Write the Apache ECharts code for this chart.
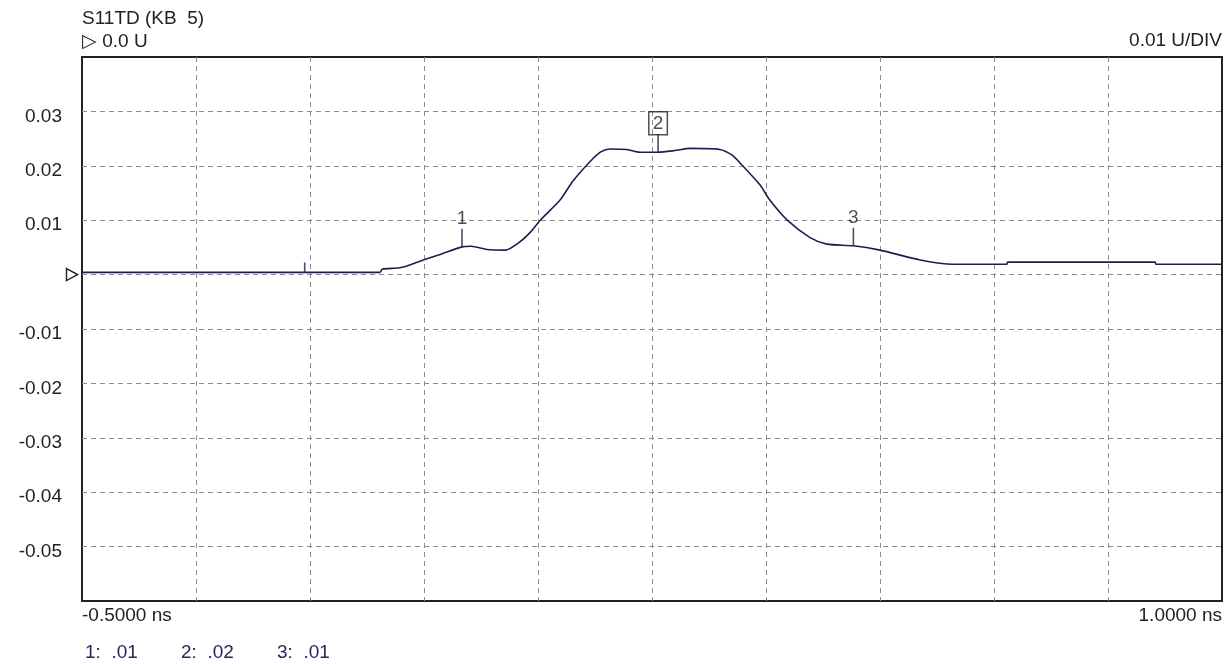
<!DOCTYPE html>
<html>
<head>
<meta charset="utf-8">
<script src="https://cdn.jsdelivr.net/npm/echarts@6/dist/echarts.min.js"></script>
<style>
html,body{margin:0;padding:0;background:#fff;}
#chart{width:1230px;height:664px;}
</style>
</head>
<body>
<div id="chart"></div>
<script>
// ---- data ----
const timeNs = [-0.5, -0.108, -0.105, -0.08, -0.051, -0.029, 0.0, 0.012, 0.033, 0.057, 0.076, 0.09, 0.103, 0.129, 0.146, 0.168, 0.182, 0.195, 0.217, 0.234, 0.258, 0.28, 0.3, 0.339, 0.355, 0.366, 0.392, 0.405, 0.428, 0.458, 0.48, 0.515, 0.55, 0.603, 0.646, 0.717, 0.718, 0.912, 0.913, 1.0];
const s11Values = [0.0004, 0.0004, 0.001, 0.0013, 0.0027, 0.0037, 0.0051, 0.0052, 0.0046, 0.0045, 0.006, 0.0078, 0.01, 0.0137, 0.0172, 0.0207, 0.0225, 0.0231, 0.0230, 0.0225, 0.0225, 0.0228, 0.0232, 0.0230, 0.0220, 0.0205, 0.0165, 0.0137, 0.0100, 0.0068, 0.0056, 0.0053, 0.0045, 0.0027, 0.0019, 0.0019, 0.0023, 0.0023, 0.0019, 0.0019];
const markerNs = [0.0, 0.258, 0.515];
const markerVals = [0.0051, 0.0225, 0.0053];
const markerNames = ['1', '2', '3'];
const markerReadouts = ['.01', '.02', '.01'];
const refTickNs = [-0.207];
const refTickVals = [0.0004];
const xStartNs = -0.5;
const xEndNs = 1.0;
const xDivNs = 0.15;
const yMin = -0.06, yMax = 0.04, yDiv = 0.01;
const titleText = 'S11TD (KB  5)';
const refText = '\u25B7 0.0 U';
const scaleText = '0.01 U/DIV';

// axis starts at 0 so ticks land on divisions; offset time values
const toAxis = t => t - xStartNs;

const chart = echarts.init(document.getElementById('chart'));
const FONT = 'Liberation Sans, Arial, sans-serif';
const FS = 19;
const TXT = '#222222';
const TRACE = '#1e1e4e';

const traceData = timeNs.map((t, i) => [toAxis(t), s11Values[i]]);
const markerData = markerNs.map((t, i) => ({
  value: [toAxis(t), markerVals[i]],
  name: markerNames[i]
}));
const refData = refTickNs.map((t, i) => [toAxis(t), refTickVals[i]]);

const titles = [
  { text: titleText, left: 82, top: 9 },
  { text: refText, left: 82, top: 32 },
  { text: scaleText, right: 8, top: 31 }
];
markerReadouts.forEach((r, i) => {
  titles.push({ text: markerNames[i] + ':  ' + r, left: 85 + i * 96, top: 643,
    textStyle: { color: '#262660', fontFamily: FONT, fontSize: FS, fontWeight: 'normal' } });
});
titles.forEach(t => {
  if (!t.textStyle) t.textStyle = { color: TXT, fontFamily: FONT, fontSize: FS, fontWeight: 'normal' };
  t.padding = 0;
});

const gridLine = { show: true, showMinLine: false, showMaxLine: false, lineStyle: { color: '#8c8c8c', type: [5, 4], width: 1 } };

chart.setOption({
  animation: false,
  backgroundColor: '#ffffff',
  title: titles,
  grid: { left: 82, right: 8, top: 57, bottom: 63, show: true, borderColor: '#222', borderWidth: 2, backgroundColor: 'transparent' },
  xAxis: {
    type: 'value',
    min: 0, max: toAxis(xEndNs), interval: xDivNs,
    axisLine: { show: false },
    axisTick: { show: false },
    splitLine: gridLine,
    axisLabel: {
      show: true, margin: 5, fontFamily: FONT, fontSize: FS, color: TXT,
      alignMinLabel: 'left', alignMaxLabel: 'right',
      formatter: v => {
        const t = v + xStartNs;
        if (Math.abs(t - xStartNs) < 1e-6 || Math.abs(t - xEndNs) < 1e-6) return t.toFixed(4) + ' ns';
        return '';
      }
    }
  },
  yAxis: {
    type: 'value',
    min: yMin, max: yMax, interval: yDiv,
    axisLine: { show: false },
    axisTick: { show: false },
    splitLine: gridLine,
    axisLabel: {
      margin: 20, fontFamily: FONT, fontSize: FS, color: TXT,
      rich: { a: { fontFamily: FONT, fontSize: FS, color: TXT, padding: [10, 0, 0, 0] } },
      formatter: v => {
        const r = Math.round(v / yDiv);
        if (r === 0 || r === Math.round(yMax / yDiv) || r === Math.round(yMin / yDiv)) return '';
        return '{a|' + (r * yDiv).toFixed(2) + '}';
      }
    }
  },
  series: [
    {
      type: 'line', data: traceData, showSymbol: false, smooth: 0.25,
      lineStyle: { color: TRACE, width: 1.6 },
      z: 3,
      markPoint: {
        symbol: 'path://M0,0 L12,6 L0,12 Z',
        symbolSize: [11, 12],
        symbolOffset: [-10, 0],
        itemStyle: { color: '#fff', borderColor: '#222', borderWidth: 1.5 },
        label: { show: false },
        data: [{ coord: [0, 0] }]
      }
    },
    {
      type: 'scatter', data: markerData, symbol: 'rect', symbolSize: [1.6, 18], symbolOffset: [0, -9],
      itemStyle: { color: TRACE }, z: 4,
      label: {
        show: true, position: 'top', distance: 1,
        fontFamily: FONT, fontSize: FS, color: TXT,
        formatter: p => p.dataIndex === 1 ? '{box|' + p.name + '}' : '{n|' + p.name + '}',
        rich: {
          n: { fontFamily: FONT, fontSize: FS, color: TXT },
          box: { fontFamily: FONT, fontSize: FS, color: TXT, borderColor: '#222', borderWidth: 1.5, padding: [3, 4, 1, 4], lineHeight: 20 }
        }
      }
    },
    {
      type: 'scatter', data: refData, symbol: 'rect', symbolSize: [1.6, 10], symbolOffset: [0, -5],
      itemStyle: { color: TRACE }, z: 4, label: { show: false }
    }
  ]
});
</script>
</body>
</html>
